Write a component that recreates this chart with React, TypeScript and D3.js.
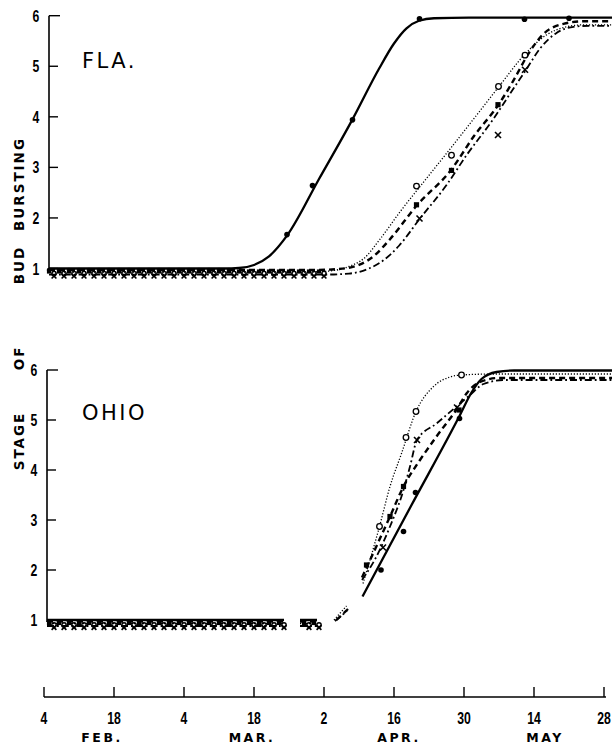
import React from "react";
import * as d3 from "d3";

type P = [number, number] | null;

// x in days after Feb 4 (ticks every 14 days)
const TICK_DAYS = [0, 14, 28, 42, 56, 70, 84, 98, 112];
const TICK_LABELS = ["4", "18", "4", "18", "2", "16", "30", "14", "28"];
const MONTHS = ["FEB.", "MAR.", "APR.", "MAY"];
const MONTH_DAYS = [11.6, 41.6, 71, 100.2];
const Y_TICKS = [1, 2, 3, 4, 5, 6];

// ---------- FLA. ----------
const FLA_SOLID: P[] = [[1, 1.0], [36, 1.0], [39, 1.01], [42, 1.07], [45, 1.24], [48.6, 1.65], [55, 2.77], [61.7, 3.95], [67, 4.95], [70, 5.45], [72.5, 5.75], [75, 5.9], [78, 5.95], [85, 5.96], [113.6, 5.96]];
const FLA_DOTTED: P[] = [[1, 0.93], [52, 0.93], [57, 0.95], [61, 1.04], [64, 1.2], [67.2, 1.58], [71.2, 2.12], [76, 2.72], [81.5, 3.4], [86.5, 4.03], [91, 4.6], [96.2, 5.24], [100.5, 5.62], [104.5, 5.78], [108, 5.82], [113.6, 5.82]];
const FLA_DASHED: P[] = [[1, 0.97], [54, 0.97], [59, 0.99], [63, 1.07], [66, 1.25], [69.2, 1.58], [74.5, 2.24], [81.5, 2.96], [86, 3.62], [90.9, 4.24], [93.9, 4.72], [96.9, 5.25], [99.9, 5.64], [103.9, 5.84], [108, 5.89], [113.6, 5.89]];
const FLA_DASHDOT: P[] = [[1, 0.88], [56, 0.88], [61, 0.9], [65, 1.0], [68, 1.17], [71, 1.45], [75.2, 1.99], [80.5, 2.65], [84.5, 3.24], [89.9, 3.96], [93.9, 4.56], [96.4, 4.93], [99.2, 5.35], [102.5, 5.66], [105.9, 5.78], [109, 5.8], [113.6, 5.8]];

const FLA_SOLID_PTS: [number, number][] = [[48.6, 1.67], [53.7, 2.64], [61.7, 3.94], [75.1, 5.94], [96.1, 5.93], [105, 5.95]];
const FLA_DOTTED_PTS: [number, number][] = [[74.5, 2.63], [81.5, 3.24], [90.9, 4.6], [96.2, 5.22]];
const FLA_DASHED_PTS: [number, number][] = [[74.5, 2.26], [81.5, 2.94], [90.8, 4.24]];
const FLA_DASHDOT_PTS: [number, number][] = [[75.1, 1.99], [90.8, 3.64], [96.2, 4.93]];
const FLA_FLAT_DAYS = [1, 3, 5, 7, 9, 11, 13, 15, 17, 19, 21, 23, 25, 27, 29, 31, 33, 35, 37, 39, 41, 43, 45, 47, 49, 51, 53, 55];

// ---------- OHIO ----------
const OH_SOLID: P[] = [[0.6, 1.0], [48, 1.0], null, [51.2, 1.0], [54.6, 1.0], null, [63.7, 1.47], [73.4, 3.28], [83.2, 5.1], [85.5, 5.55], [87.5, 5.82], [90.5, 5.96], [94, 5.99], [113.6, 5.99]];
const OH_DOTTED: P[] = [[0.6, 0.93], [48, 0.93], null, [51.2, 0.93], [54.6, 0.93], null, [58, 1.0], [60.5, 1.28], null, [63.8, 1.73], [67.1, 2.87], [69.2, 3.67], [71.5, 4.33], [74.4, 5.17], [77.9, 5.67], [81.2, 5.86], [83.5, 5.9], [90, 5.92], [113.6, 5.92]];
const OH_DASHED: P[] = [[0.6, 0.97], [48, 0.97], null, [51.2, 0.97], [54.6, 0.97], null, [58.5, 1.0], [60.8, 1.22], null, [63.6, 1.85], [69.2, 3.07], [71.9, 3.67], [75.2, 4.2], [78.5, 4.67], [82.9, 5.27], [84.5, 5.53], [87.2, 5.76], [91, 5.84], [113.6, 5.84]];
const OH_DASHDOT: P[] = [[0.6, 0.88], [48, 0.88], null, [51.2, 0.88], [54.6, 0.88], null, [58.2, 0.98], [60.6, 1.18], null, [63.6, 1.8], [66.5, 2.27], [69.2, 2.87], [71.9, 3.6], [73.2, 4.07], [74.6, 4.6], [78.5, 4.93], [82.5, 5.27], [85.2, 5.5], [87.9, 5.72], [92, 5.8], [113.6, 5.8]];

const OH_SOLID_PTS: [number, number][] = [[67.4, 2.0], [71.9, 2.77], [74.3, 3.55], [83.1, 5.03]];
const OH_DOTTED_PTS: [number, number][] = [[67.1, 2.87], [72.4, 4.65], [74.4, 5.17], [83.5, 5.9]];
const OH_DASHED_PTS: [number, number][] = [[64.5, 2.1], [69.2, 3.07], [71.9, 3.67], [83.0, 5.2]];
const OH_DASHDOT_PTS: [number, number][] = [[67.8, 2.45], [74.6, 4.6], [82.6, 5.25]];
const OH_FLAT_DAYS = [1, 3, 5, 7, 9, 11, 13, 15, 17, 19, 21, 23, 25, 27, 29, 31, 33, 35, 37, 39, 41, 43, 45, 47, 52, 54];

const W = 615;
const H = 744;
const FONT_NUM = "'Liberation Sans', 'DejaVu Sans', sans-serif";

const x = d3.scaleLinear().domain([0, 112]).range([44, 604]);

type Style = { dash: string; width: number; marker: string };
const STYLES: Style[] = [
  { dash: "none", width: 2.3, marker: "dot" },
  { dash: "1.2,1.8", width: 1.3, marker: "circle" },
  { dash: "6,4", width: 2.4, marker: "square" },
  { dash: "7,3,1.8,3", width: 1.8, marker: "x" },
];

function Marker({ kind, cx, cy, s = 1 }: { kind: string; cx: number; cy: number; s?: number }) {
  if (kind === "dot") return <circle cx={cx} cy={cy} r={2.8 * s} fill="#000" />;
  if (kind === "circle") return <circle cx={cx} cy={cy} r={2.8 * s} fill="#fff" stroke="#000" strokeWidth={1.3} />;
  if (kind === "square") return <rect x={cx - 2.6 * s} y={cy - 2.6 * s} width={5.2 * s} height={5.2 * s} fill="#000" />;
  return (
    <g stroke="#000" strokeWidth={1.6}>
      <line x1={cx - 3 * s} y1={cy - 3 * s} x2={cx + 3 * s} y2={cy + 3 * s} />
      <line x1={cx - 3 * s} y1={cy + 3 * s} x2={cx + 3 * s} y2={cy - 3 * s} />
    </g>
  );
}

function Num({ x0, y0, t }: { x0: number; y0: number; t: string | number }) {
  return (
    <text
      transform={`translate(${x0},${y0}) scale(0.72,1)`}
      textAnchor="middle"
      fontFamily={FONT_NUM}
      fontWeight="bold"
      fontSize={17}
    >
      {t}
    </text>
  );
}

function Panel({
  y,
  axisX,
  curves,
  pts,
  flatDays,
  flatEnd,
  label,
  labelY,
}: {
  y: d3.ScaleLinear<number, number>;
  axisX: number;
  curves: P[][];
  pts: [number, number][][];
  flatDays: number[];
  flatEnd: number[];
  label: string;
  labelY: number;
}) {
  const line = d3
    .line<P>()
    .defined((d) => d !== null)
    .x((d) => x((d as [number, number])[0]))
    .y((d) => y((d as [number, number])[1]))
    .curve(d3.curveMonotoneX);
  const flatVals = curves.map((c) => (c[0] as [number, number])[1]);
  return (
    <g>
      {/* axis */}
      <line x1={axisX} x2={axisX} y1={y(6)} y2={y(1) + 2} stroke="#000" strokeWidth={1.6} />
      {Y_TICKS.map((t) => (
        <g key={t}>
          <line x1={axisX} x2={axisX + (t === 6 ? 11 : 9)} y1={y(t)} y2={y(t)} stroke="#000" strokeWidth={1.4} />
          <Num x0={axisX - 13} y0={y(t) + 6} t={t} />
        </g>
      ))}
      <text x={82} y={labelY} fontFamily="'DejaVu Sans', sans-serif" fontWeight="normal" fontSize={21} letterSpacing={2.5} fill="#000">
        {label}
      </text>
      {/* flat-band observations */}
      {curves.map((c, i) =>
        flatDays
          .filter((d) => d <= flatEnd[i])
          .map((d, j) => <Marker key={`f${i}-${j}`} kind={STYLES[i].marker} cx={x(d + (i % 2) * 1)} cy={y(flatVals[i]) + 1.5} s={0.8} />)
      )}
      {curves.map((c, i) => (
        <path key={i} d={line(c) || ""} fill="none" stroke="#000" strokeWidth={STYLES[i].width} strokeDasharray={STYLES[i].dash} />
      ))}
      {pts.map((arr, i) => arr.map((p, j) => <Marker key={`p${i}-${j}`} kind={STYLES[i].marker} cx={x(p[0])} cy={y(p[1])} />))}
    </g>
  );
}

export default function App() {
  const yTop = d3.scaleLinear().domain([1, 6]).range([268.5, 15.7]);
  const yBot = d3.scaleLinear().domain([1, 6]).range([620, 370]);
  const titleFont = "'DejaVu Sans', sans-serif";
  return (
    <svg width={W} height={H} style={{ position: "absolute", left: 0, top: 0, background: "#fff" }}>
      <rect width={W} height={H} fill="#fff" />
      <Panel
        y={yTop}
        axisX={49}
        curves={[FLA_SOLID, FLA_DOTTED, FLA_DASHED, FLA_DASHDOT]}
        pts={[FLA_SOLID_PTS, FLA_DOTTED_PTS, FLA_DASHED_PTS, FLA_DASHDOT_PTS]}
        flatDays={FLA_FLAT_DAYS}
        flatEnd={[37, 55, 55, 55]}
        label="FLA."
        labelY={68}
      />
      <Panel
        y={yBot}
        axisX={47}
        curves={[OH_SOLID, OH_DOTTED, OH_DASHED, OH_DASHDOT]}
        pts={[OH_SOLID_PTS, OH_DOTTED_PTS, OH_DASHED_PTS, OH_DASHDOT_PTS]}
        flatDays={OH_FLAT_DAYS}
        flatEnd={[54, 54, 54, 54]}
        label="OHIO"
        labelY={420}
      />
      {/* Y title */}
      {[
        ["BURSTING", 184],
        ["BUD", 265],
        ["OF", 358],
        ["STAGE", 441],
      ].map(([t, cy]) => (
        <text
          key={t as string}
          transform={`translate(24,${cy}) rotate(-90)`}
          textAnchor="middle"
          fontFamily={titleFont}
          fontWeight="bold"
          fontSize={13.5}
          letterSpacing={2}
        >
          {t}
        </text>
      ))}
      {/* X axis */}
      <line x1={x(0)} x2={x(112) + 2} y1={697} y2={697} stroke="#000" strokeWidth={1.4} />
      {TICK_DAYS.map((d, i) => (
        <g key={d}>
          <line x1={x(d)} x2={x(d)} y1={687} y2={697} stroke="#000" strokeWidth={1.4} />
          <Num x0={x(d)} y0={724} t={TICK_LABELS[i]} />
        </g>
      ))}
      {MONTHS.map((m, i) => (
        <text key={m} x={x(MONTH_DAYS[i])} y={742} textAnchor="middle" fontFamily={titleFont} fontWeight="bold" fontSize={12.5} letterSpacing={2.5}>
          {m}
        </text>
      ))}
    </svg>
  );
}
